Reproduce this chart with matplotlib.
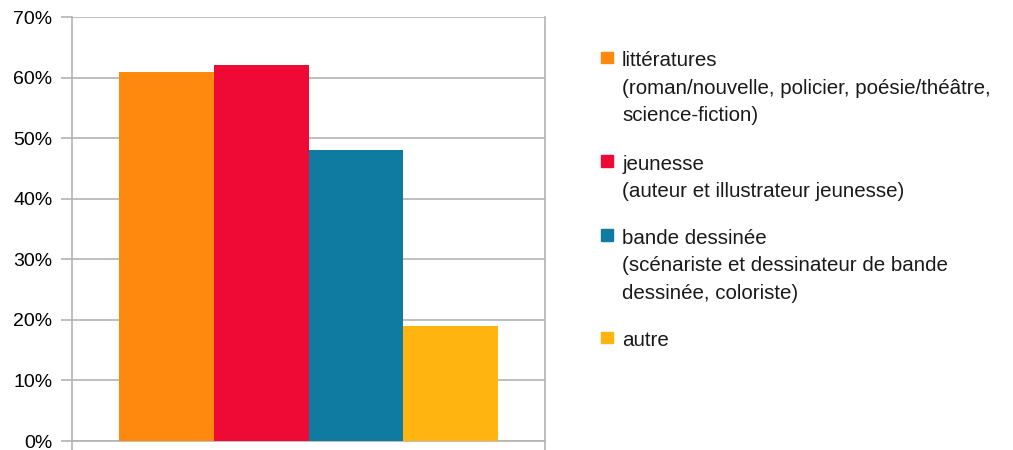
import matplotlib.pyplot as plt
import numpy as np

plt.rcParams['font.family'] = ['Liberation Sans', 'DejaVu Sans']

# data
series = ['littératures', 'jeunesse', 'bande dessinée', 'autre']
details = [['(roman/nouvelle, policier, poésie/théâtre,', 'science-fiction)'],
           ['(auteur et illustrateur jeunesse)'],
           ['(scénariste et dessinateur de bande', 'dessinée, coloriste)'],
           []]
values = [61, 62, 48, 19]
colors = ['#ff880e', '#ef0a35', '#0f7ba1', '#ffb40f']
yticks = [0, 10, 20, 30, 40, 50, 60, 70]

W, H = 1013, 450
fig = plt.figure(figsize=(W / 100, H / 100), dpi=100)
ax = fig.add_axes([72 / W, 1 - 441 / H, 473 / W, 424 / H])

x = np.arange(len(values))
ax.bar(x, values, width=1.0, color=colors, zorder=3)

gc = '#b3b3b3'
ax.set_xlim(-1.0, len(values))
ax.set_ylim(0, 70)
ax.set_yticks(yticks)
ax.set_yticklabels([f'{v}%' for v in yticks], fontsize=14)
ax.yaxis.grid(True, color=gc, linewidth=1.2, zorder=0)
ax.tick_params(axis='y', length=8, color=gc, width=1.2, pad=6)
ax.set_xticks([-1.0, len(values)])
ax.set_xticklabels([])
ax.tick_params(axis='x', length=7, color=gc, width=1.2)
ax.spines['top'].set_visible(False)
for s in ['left', 'right', 'bottom']:
    ax.spines[s].set_color(gc)
    ax.spines[s].set_linewidth(1.2)

# legend drawn by hand so the square sits on the first line
entry_base = [66.5, 170, 244, 346.5]
pitch = 27.3
for name, det, c, b0 in zip(series, details, colors, entry_base):
    fig.patches.append(plt.Rectangle((601 / W, 1 - (b0 - 3.5) / H), 11.5 / W, 11.5 / H,
                                     transform=fig.transFigure, color=c))
    for k, line in enumerate([name] + det):
        fig.text(622 / W, 1 - (b0 + k * pitch) / H, line, fontsize=14.8,
                 va='baseline', ha='left', color='#1a1a1a')

fig.savefig('out.png', dpi=100)
